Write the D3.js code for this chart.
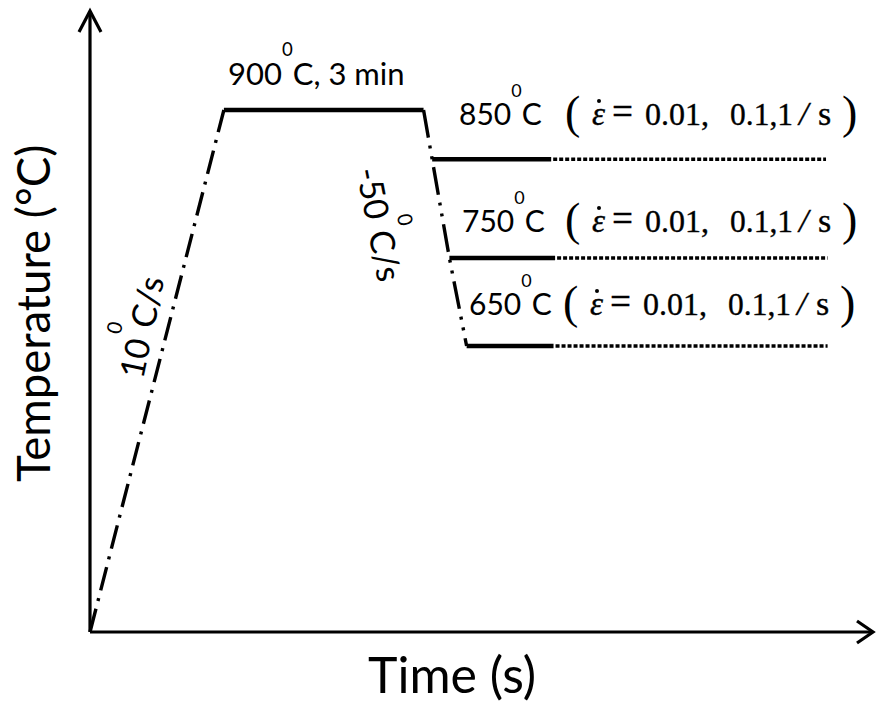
<!DOCTYPE html>
<html>
<head>
<meta charset="utf-8">
<script src="https://cdnjs.cloudflare.com/ajax/libs/d3/7.8.5/d3.min.js"></script>
<style>
  body { margin: 0; background: #fff; }
  svg { display: block; }
  .lbl { font-family: Lato, "Open Sans", sans-serif; fill: #000; }
  .math { font-family: "Liberation Serif", "DejaVu Serif", serif; fill: #000; stroke: #000; stroke-width: 0.35; }
</style>
</head>
<body>
<div id="chart"></div>
<script>
(function() {
    const width = 876, height = 704;

    // schematic time axis (not to scale), temperatures in degC
    const profileTime = [0, 17.1, 42.6];   // start, end of heating, end of soak
    const profileTemp = [25, 900, 900];
    const testTemps = [850, 750, 650];
    const testStart = [43.7, 45.9, 48.1];
    const testSolidEnd = [58.9, 59.4, 59.2];
    const testEnd = [94.0, 94.2, 94.2];
    const soakLabel = ["900", "C, 3 min"];
    const heatLabel = ["10", "C/s"];
    const coolLabel = ["-50", "C/s"];
    const rateParts = ["0.01,", "0.1,1", "/", "s"];

    // where the level labels sit (layout only)
    const labelX = [459, 462, 469];
    const labelY = [125, 232, 315];
    const rateX = [565, 565, 563];

    const x = d3.scaleLinear().domain([0, 100]).range([90, 873]);
    const y = d3.scaleLinear().domain([25, 650, 750, 900]).range([632, 346, 258, 110]);

    const line = d3.line().x(d => x(d[0])).y(d => y(d[1]));

    const svg = d3.select("#chart")
        .append("svg")
        .attr("width", width)
        .attr("height", height);

    svg.append("rect").attr("width", width).attr("height", height).attr("fill", "#fff");

    // axes with open arrow heads
    const x0 = x(0), y0 = y(profileTemp[0]);
    const axes = svg.append("g")
        .attr("fill", "none")
        .attr("stroke", "#000")
        .attr("stroke-width", 3.2);
    axes.append("path").attr("d", `M${x0},${y0}V11`);
    axes.append("path").attr("d", `M${x0},${y0}H873`);
    axes.append("path").attr("d", `M${x0 - 11},32L${x0},11L${x0 + 11},32`);
    axes.append("path").attr("d", `M857,${y0 - 11}L873,${y0}L857,${y0 + 11}`);

    const curves = svg.append("g")
        .attr("fill", "none")
        .attr("stroke", "#000");

    // heating
    curves.append("path")
        .attr("d", line([[profileTime[0], profileTemp[0]], [profileTime[1], profileTemp[1]]]))
        .attr("stroke-width", 3.4)
        .attr("stroke-dasharray", "24,8,3,8");

    // soak
    curves.append("path")
        .attr("d", line([[profileTime[1], profileTemp[1]], [profileTime[2], profileTemp[2]]]))
        .attr("stroke-width", 4.5);

    // cooling through the test temperatures
    const coolPts = [[profileTime[2], profileTemp[2]]]
        .concat(testTemps.map((t, i) => [testStart[i], t]));
    curves.append("path")
        .attr("d", line(coolPts))
        .attr("stroke-width", 3.4)
        .attr("stroke-dasharray", "28,8,3,8,3,8");

    testTemps.forEach((t, i) => {
        curves.append("path")
            .attr("d", line([[testStart[i], t], [testSolidEnd[i], t]]))
            .attr("stroke-width", 4.5);
        curves.append("path")
            .attr("d", line([[testSolidEnd[i], t], [testEnd[i], t]]))
            .attr("stroke-width", 3.5)
            .attr("stroke-dasharray", "4,2")
            .attr("stroke-dashoffset", -2);
    });

    // text with a raised "0" as the degree sign
    function degText(px, py, angle, parts, size) {
        const t = svg.append("text")
            .attr("class", "lbl")
            .attr("transform", `translate(${px},${py}) rotate(${angle})`)
            .style("font-size", size + "px");
        t.append("tspan").text(parts[0]);
        t.append("tspan").attr("dy", -0.92 * size)
            .style("font-size", (0.6 * size) + "px").text("0");
        t.append("tspan").attr("dy", 0.92 * size).text(parts[1]);
    }

    // strain-rate note, laid out piece by piece like the equation editor
    function rateText(px, py) {
        const g = svg.append("g")
            .attr("class", "math")
            .attr("transform", `translate(${px},${py})`);
        const pieces = [
            {s: "(", x: 0, y: 3, size: 46, thin: true},
            {s: "\u03b5", x: 27, size: 33, it: true},
            {s: "=", x: 47, size: 40, len: 21},
            {s: rateParts[0], x: 80, size: 32, len: 64},
            {s: rateParts[1], x: 165, size: 32, len: 63},
            {s: rateParts[2], x: 234, size: 34, it: true},
            {s: rateParts[3], x: 253, size: 34},
            {s: ")", x: 277, y: 3, size: 46, thin: true}
        ];
        pieces.forEach(p => {
            const t = g.append("text")
                .attr("x", p.x).attr("y", p.y || 0)
                .style("font-size", p.size + "px")
                .text(p.s);
            if (p.it) t.style("font-style", "italic");
            if (p.thin) t.style("stroke-width", 0);
            if (p.len) t.attr("textLength", p.len).attr("lengthAdjust", "spacingAndGlyphs");
        });
        // time-derivative dot over epsilon
        g.append("circle").attr("cx", 34).attr("cy", -24).attr("r", 2).attr("stroke", "none");
    }

    degText(228, 85, 0, soakLabel, 31);
    degText(143, 380, -78, heatLabel, 34);
    degText(356, 170, 79, coolLabel, 34);

    testTemps.forEach((t, i) => {
        degText(labelX[i], labelY[i], 0, [String(t), "C"], 30);
        rateText(rateX[i], labelY[i]);
    });

    // axis titles
    svg.append("text")
        .attr("class", "lbl")
        .attr("x", 368).attr("y", 693)
        .style("font-size", "50px")
        .text("Time (s)");

    svg.append("text")
        .attr("class", "lbl")
        .attr("transform", "translate(50,482) rotate(-90)")
        .style("font-size", "45.5px")
        .text("Temperature (\u00b0C)");
})();
</script>
</body>
</html>
